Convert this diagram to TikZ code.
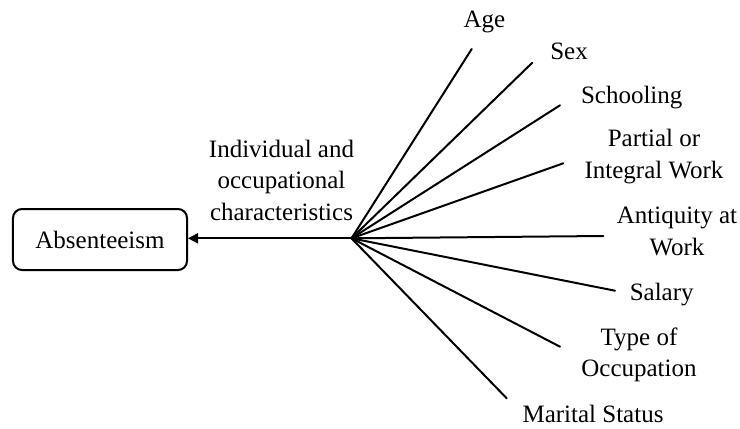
\documentclass[tikz,border=0pt]{standalone}
\usepackage{fontspec}
\setmainfont{Liberation Serif}
\usetikzlibrary{arrows.meta}
\begin{document}
\begin{tikzpicture}[x=1bp,y=-1bp,
  every node/.style={font=\fontsize{25bp}{31.5bp}\selectfont, inner sep=0pt, align=center},
  spoke/.style={line width=2bp, line cap=round},
  lbl/.style={anchor=base},
  box/.style={draw, line width=2bp, rounded corners=9bp, minimum width=174bp, minimum height=61bp}]
\useasboundingbox (0,0) rectangle (740,428);

% outcome box
\node[box] (abs) at (100,239.5) {Absenteeism};

% hub of the fan and the spoke ends
\coordinate (hub) at (351.5,238.3);
\coordinate (eAge) at (471.7,49);
\coordinate (eSex) at (532.3,62.7);
\coordinate (eSch) at (560,105.3);
\coordinate (ePar) at (563.3,163.3);
\coordinate (eAnt) at (603.3,236);
\coordinate (eSal) at (615,290.7);
\coordinate (eTyp) at (560,346.7);
\coordinate (eMar) at (506.7,398.3);

\foreach \e in {eAge,eSex,eSch,ePar,eAnt,eSal,eTyp,eMar}
  \draw[spoke] (hub) -- (\e);

% arrow into the outcome
\draw[line width=2bp, -{Triangle[length=10bp,width=10bp]}] (hub) -- (hub -| abs.east);

% labels (multi-line labels are placed by the baseline of their last line)
\node[lbl] (tGroup) at (281.5,220) {Individual and\\occupational\\characteristics};
\node[lbl] (tAge) at (484.5,27) {Age};
\node[lbl] (tSex) at (569,59.3) {Sex};
\node[lbl] (tSch) at (631.7,103.3) {Schooling};
\node[lbl] (tPar) at (654,178) {Partial or\\Integral Work};
\node[lbl] (tAnt) at (677,255) {Antiquity at\\Work};
\node[lbl] (tSal) at (661.7,300) {Salary};
\node[lbl] (tTyp) at (639,376.7) {Type of\\Occupation};
\node[lbl] (tMar) at (593,422.7) {Marital Status};
\end{tikzpicture}
\end{document}
